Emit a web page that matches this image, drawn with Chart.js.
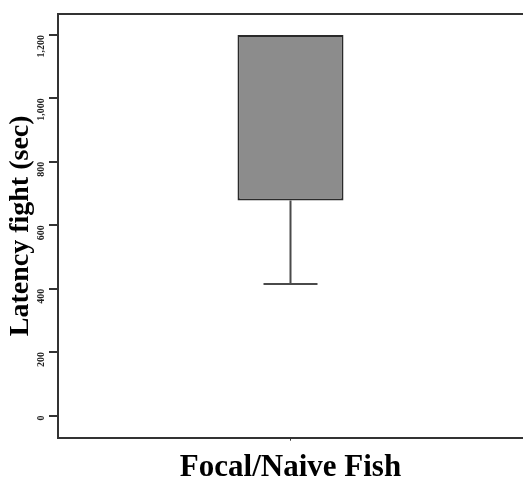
<!DOCTYPE html>
<html>
<head>
<meta charset="utf-8">
<script src="https://cdn.jsdelivr.net/npm/chart.js@4"></script>
<style>
  html, body { margin: 0; padding: 0; background: #fff; }
  #wrap { width: 523px; height: 482px; }
</style>
</head>
<body>
<div id="wrap"><canvas id="chart" width="523" height="482"></canvas></div>
<script>
// data
const categories = ['Focal/Naive Fish'];
const boxLow = [678];
const boxHigh = [1200];
const whiskerLow = [415];
const yTicks = [0, 200, 400, 600, 800, 1000, 1200];

const serif = '"Liberation Serif", "Times New Roman", serif';

// top border line + lower whisker, drawn through the scales
const extras = {
    id: 'extras',
    afterDatasetsDraw(chart) {
        const ctx = chart.ctx;
        const area = chart.chartArea;
        const x = chart.scales.x;
        const y = chart.scales.y;
        ctx.save();
        ctx.strokeStyle = '#333';
        ctx.lineWidth = 2;
        ctx.beginPath();
        ctx.moveTo(area.left, area.top);
        ctx.lineTo(area.right, area.top);
        ctx.stroke();

        ctx.strokeStyle = '#4a4a4a';
        ctx.lineWidth = 2;
        categories.forEach((c, i) => {
            const cx = x.getPixelForValue(i);
            const yTop = y.getPixelForValue(boxLow[i]);
            const yBot = y.getPixelForValue(whiskerLow[i]);
            ctx.beginPath();
            ctx.moveTo(cx, yTop);
            ctx.lineTo(cx, yBot);
            ctx.moveTo(cx - 27, yBot);
            ctx.lineTo(cx + 27, yBot);
            ctx.stroke();
        });
        ctx.restore();
    }
};

new Chart(document.getElementById('chart'), {
    type: 'bar',
    data: {
        labels: categories,
        datasets: [{
            data: categories.map((c, i) => [boxLow[i], boxHigh[i]]),
            backgroundColor: '#8c8c8c',
            borderColor: '#2a2a2a',
            borderWidth: 2,
            borderSkipped: false,
            barPercentage: 0.228,
            categoryPercentage: 1
        }]
    },
    options: {
        responsive: false,
        animation: false,
        layout: { padding: { top: 14, right: -4, bottom: 0, left: 0 } },
        plugins: {
            legend: { display: false },
            tooltip: { enabled: false }
        },
        scales: {
            x: {
                grid: { display: true, offset: false, drawOnChartArea: false, tickLength: 3, color: '#333', lineWidth: 1 },
                border: { display: true, color: '#333', width: 2 },
                ticks: { display: true, callback: () => '', padding: 0, font: { size: 1 } },
                title: {
                    display: true,
                    text: categories[0],
                    color: '#000',
                    font: { family: serif, size: 31, weight: 'bold', lineHeight: 1.1 },
                    padding: { top: 9, bottom: -3 }
                }
            },
            y: {
                min: -70,
                max: 1266,
                afterBuildTicks: (axis) => { axis.ticks = yTicks.map(v => ({ value: v })); },
                grid: { display: true, drawOnChartArea: false, tickLength: 9, color: '#333', lineWidth: 2 },
                border: { display: true, color: '#333', width: 2 },
                ticks: {
                    minRotation: 90,
                    maxRotation: 90,
                    padding: 8,
                    color: '#222',
                    font: { family: serif, size: 10, weight: 'bold' },
                    callback: (v) => v.toLocaleString('en-US')
                },
                title: {
                    display: true,
                    text: 'Latency fight (sec)',
                    color: '#000',
                    font: { family: serif, size: 28, weight: 'bold', lineHeight: 0.75 },
                    padding: { top: 10.5, bottom: -10.5 }
                }
            }
        }
    },
    plugins: [extras]
});
</script>
</body>
</html>
